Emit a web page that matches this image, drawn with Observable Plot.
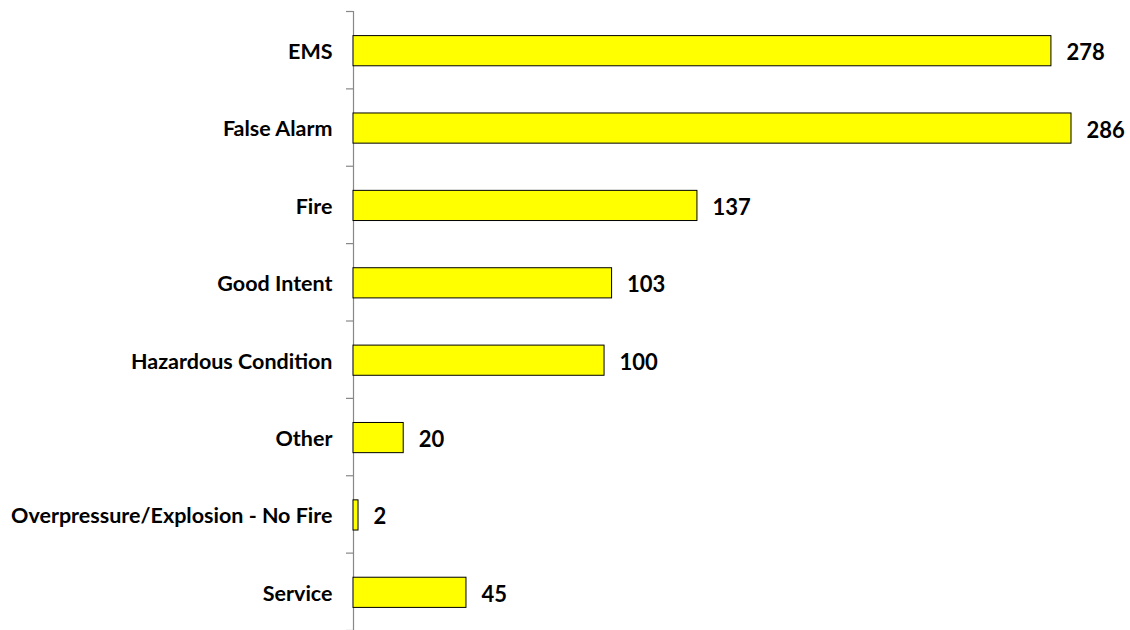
<!DOCTYPE html>
<html>
<head>
<meta charset="utf-8">
<script src="https://cdn.jsdelivr.net/npm/d3@7"></script>
<script src="https://cdn.jsdelivr.net/npm/@observablehq/plot@0.6"></script>
<style>
  html, body { margin: 0; padding: 0; background: #fff; }
</style>
</head>
<body>
<div id="chart"></div>
<script>
const categories = ["EMS", "False Alarm", "Fire", "Good Intent", "Hazardous Condition", "Other", "Overpressure/Explosion - No Fire", "Service"];
const counts = [278, 286, 137, 103, 100, 20, 2, 45];

const data = categories.map((c, i) => ({category: c, value: counts[i], index: i}));
const n = categories.length;
const half = 0.195; // half bar thickness, in band units

const chart = Plot.plot({
  width: 1130,
  height: 630,
  marginLeft: 353,
  marginRight: 59,
  marginTop: 11,
  marginBottom: 0,
  style: {fontFamily: "Lato, 'Open Sans', sans-serif", overflow: "visible"},
  x: {domain: [0, 286], axis: null},
  y: {domain: [0, n], reverse: true, axis: null},
  marks: [
    Plot.axisY({ticks: d3.range(0, n + 1), tickSize: 7, tickFormat: () => "", stroke: "#888", strokeWidth: 1.2}),
    Plot.ruleX([0], {y1: 0, y2: n, stroke: "#888", strokeWidth: 1.2}),
    Plot.rectX(data, {x1: 0, x2: "value", y1: d => d.index + 0.5 - half, y2: d => d.index + 0.5 + half, dy: 1, fill: "#FFFF00", stroke: "#000", strokeWidth: 1}),
    Plot.text(data, {x: 0, y: d => d.index + 0.5, text: "category", textAnchor: "end", dx: -21, dy: 2, fontSize: 21.5, fontWeight: "bold", fill: "#000"}),
    Plot.text(data, {x: "value", y: d => d.index + 0.5, text: d => String(d.value), textAnchor: "start", dx: 15, dy: 3, fontSize: 22, fontWeight: "bold", fill: "#000"})
  ]
});
document.getElementById("chart").appendChild(chart);
</script>
</body>
</html>
